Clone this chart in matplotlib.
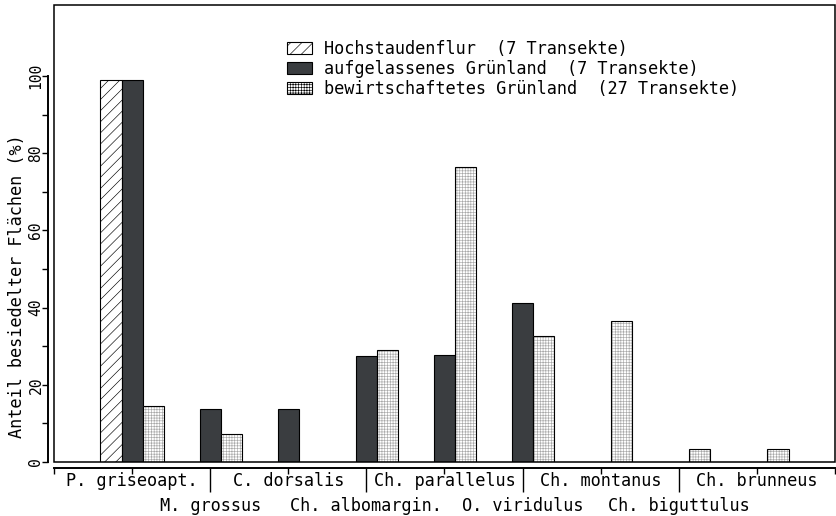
import numpy as np
import matplotlib
matplotlib.use('Agg')
import matplotlib.pyplot as plt
from matplotlib.patches import Rectangle, Patch

plt.rcParams['font.family'] = ['DejaVu Sans Mono']
plt.rcParams['hatch.linewidth'] = 0.45

# species in plot order (top row at even positions, bottom row at odd positions)
species = ['P. griseoapt.', 'M. grossus', 'C. dorsalis', 'Ch. albomargin.',
           'Ch. parallelus', 'O. viridulus', 'Ch. montanus', 'Ch. biguttulus',
           'Ch. brunneus']
hochstauden = [99, np.nan, np.nan, np.nan, np.nan, np.nan, np.nan, np.nan, np.nan]
aufgelassen = [99, 13.8, 13.8, 27.4, 27.8, 41.3, np.nan, np.nan, np.nan]
bewirtschaftet = [14.6, 7.3, np.nan, 29.1, 76.5, 32.7, 36.5, 3.4, 3.4]
legend_labels = ['Hochstaudenflur  (7 Transekte)',
                 'aufgelassenes Grünland  (7 Transekte)',
                 'bewirtschaftetes Grünland  (27 Transekte)']

fs = 12.2
w = 0.27
dark = '#3a3d40'
dots = '#a8a8a8'
x = np.arange(len(species))

fig = plt.figure(figsize=(8.37, 5.16), dpi=100)
ax = fig.add_axes([54 / 837, 54 / 516, 781 / 837, 457 / 516])


def draw(vals, off, **style):
    vals = np.asarray(vals, dtype=float)
    keep = ~np.isnan(vals)
    ax.bar(x[keep] + off, vals[keep], width=w, **style)


# hatched series
draw(hochstauden, -w, color='white', edgecolor='black', hatch='///', linewidth=0.8)
# dark series
draw(aufgelassen, 0, color=dark, edgecolor='black', linewidth=0.8)
# stippled series: hatch first, outline on top
draw(bewirtschaftet, w, color='white', edgecolor=dots, hatch='++++++', linewidth=0)
draw(bewirtschaftet, w, fill=False, edgecolor='black', linewidth=0.8)

ax.set_xlim(-1, 9)
ax.set_ylim(0, 118.4)

# frame around the plotting area
ax.add_patch(Rectangle((0, 0), 1, 1, transform=ax.transAxes, fill=False,
                       lw=1.1, edgecolor='black', clip_on=False, zorder=5))
ax.spines['top'].set_visible(False)
ax.spines['right'].set_visible(False)
ax.spines['left'].set_position(('outward', 4.3))
ax.spines['left'].set_bounds(0, 100)
ax.spines['left'].set_linewidth(1.4)
ax.spines['bottom'].set_position(('outward', 4.3))
ax.spines['bottom'].set_linewidth(1.4)

# y axis
ax.set_yticks(np.arange(0, 101, 20))
ax.set_yticks(np.arange(10, 100, 20), minor=True)
ax.tick_params(axis='y', which='both', length=4, width=1, pad=1.5, labelsize=10.5)
for lab in ax.get_yticklabels():
    lab.set_rotation(90)
    lab.set_rotation_mode('anchor')
    lab.set_ha('center')
    lab.set_va('baseline')

# x axis: top row labels on major ticks, bottom row on long minor ticks
major = [-1] + list(x[::2]) + [9]
ax.set_xticks(major, [''] + species[::2] + [''])
ax.set_xticks(x[1::2], species[1::2], minor=True)
ax.tick_params(axis='x', which='major', length=4, width=1, pad=-1, labelsize=fs)
ax.tick_params(axis='x', which='minor', length=17.3, width=1, pad=3.5, labelsize=fs)

fig.text(17 / 837, 1 - 286 / 516, 'Anteil besiedelter Flächen (%)', rotation=90,
         ha='center', va='center', fontsize=fs)

handles = [Patch(facecolor='white', edgecolor='black', hatch='///', linewidth=0.8),
           Patch(facecolor=dark, edgecolor='black', linewidth=0.8),
           Patch(facecolor='white', edgecolor='black', hatch='++++++', linewidth=0.8)]
ax.legend(handles, legend_labels, loc='upper left', bbox_to_anchor=(0.298, 0.923),
          frameon=False, fontsize=fs, handlelength=1.5, handleheight=0.7,
          handletextpad=0.7, labelspacing=0.1, borderpad=0, borderaxespad=0)

fig.savefig('out.png', dpi=100)
